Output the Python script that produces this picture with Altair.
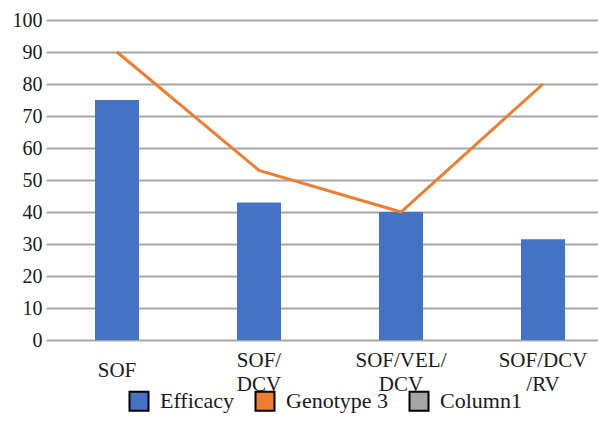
import altair as alt
import pandas as pd

categories = ["SOF", "SOF/|DCV", "SOF/VEL/|DCV", "SOF/DCV|/RV"]
efficacy = [75, 43, 40, 31.5]
genotype3 = [90, 53, 40, 80]
series_names = ["Efficacy", "Genotype 3", "Column1"]
series_colors = ["#4472C4", "#ED7D31", "#A5A5A5"]
y_ticks = [0, 10, 20, 30, 40, 50, 60, 70, 80, 90, 100]

df = pd.DataFrame({
    "cat": categories,
    "Efficacy": efficacy,
    "Genotype 3": genotype3,
    "series": ["Efficacy"] * len(categories),
})

FONT = "Times New Roman"
TXT = "#1a1a1a"

x_scale = alt.Scale(domain=categories, range=[0, 568], paddingInner=0, paddingOuter=0)
x_axis = alt.Axis(
    labelExpr="split(datum.label, '|')",
    labelAngle=0,
    labelBaseline="middle",
    labelPadding={"condition": {"test": "datum.label == 'SOF'", "value": 30}, "value": 20},
    labelLineHeight=24,
    labelFontSize=21,
    labelFont=FONT,
    labelColor=TXT,
    ticks=False,
    domain=False,
    grid=False,
)

y_scale = alt.Scale(domain=[0, 100], nice=False)
y_axis = alt.Axis(
    values=y_ticks,
    labelFontSize=20,
    labelFont=FONT,
    labelColor=TXT,
    labelPadding=4,
    ticks=False,
    domain=False,
    grid=True,
    gridColor="#A6A6A6",
    gridWidth=2,
)

bars = alt.Chart(df).mark_bar(size=44).encode(
    x=alt.X("cat:N", sort=categories, title=None, scale=x_scale, axis=x_axis),
    y=alt.Y("Efficacy:Q", title=None, scale=y_scale, axis=y_axis),
    color=alt.Color(
        "series:N",
        scale=alt.Scale(domain=series_names, range=series_colors),
        legend=alt.Legend(
            title=None,
            orient="none",
            direction="horizontal",
            legendX=82,
            legendY=370,
            symbolType="square",
            symbolSize=361,
            symbolStrokeColor="black",
            symbolStrokeWidth=2,
            labelFontSize=22,
            labelFont=FONT,
            labelColor=TXT,
            labelOffset=10,
            columnPadding=16,
        ),
    ),
)

line = alt.Chart(df).mark_line(color="#ED7D31", strokeWidth=3).encode(
    x=alt.X("cat:N", sort=categories, title=None, scale=x_scale, axis=x_axis),
    y=alt.Y("Genotype 3:Q", title=None, scale=y_scale, axis=y_axis),
)

chart = (
    alt.layer(bars, line)
    .properties(
        width=552,
        height=320,
        autosize=alt.AutoSizeParams(type="none"),
        padding={"left": 38, "top": 12, "right": 0, "bottom": 75},
    )
    .configure(font=FONT)
    .configure_view(stroke=None)
)

chart.save("out.html", embed_options={"renderer": "svg", "actions": False})
